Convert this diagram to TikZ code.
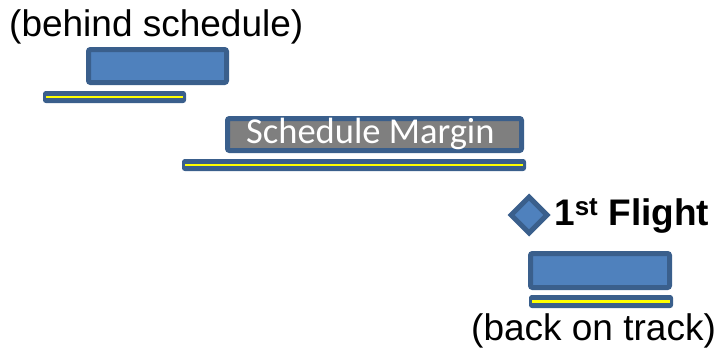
\documentclass[tikz,border=0pt]{standalone}
\usepackage{fontspec}
\setmainfont{Liberation Sans}
\newfontfamily\calib{Carlito}
\usetikzlibrary{shapes.geometric}
\definecolor{fillb}{HTML}{4F81BD}
\definecolor{bdr}{HTML}{3A5F8C}
\definecolor{margin}{HTML}{7F7F7F}
\definecolor{yel}{HTML}{FFFF00}
\begin{document}
\begin{tikzpicture}[x=1pt,y=-1pt,
  task/.style={draw=bdr, fill=fillb, line width=5pt, rounded corners=2pt, inner sep=0pt},
  marginbox/.style={draw=bdr, fill=margin, line width=5pt, rounded corners=2pt, inner sep=0pt},
  barbox/.style={draw=bdr, fill=bdr, line width=2pt, rounded corners=2pt, inner sep=0pt},
  yline/.style={draw=yel, line width=2.2pt},
  lbl/.style={inner sep=0pt, anchor=base west, font=\fontsize{37}{41}\selectfont},
  milestone/.style={diamond, aspect=1, draw=bdr, fill=fillb, line width=5pt, inner sep=0pt, minimum size=38pt}]
\useasboundingbox (0,0) rectangle (717,349);

% behind schedule
\node[lbl] (t1) at (9,36) {(behind schedule)};
\node[task, minimum width=138pt, minimum height=33pt] (b1) at (157.5,66) {};
\node[barbox, minimum width=141pt, minimum height=10pt] (r1) at (114.5,97) {};
\draw[yline] ([xshift=3pt]r1.west) -- ([xshift=-3pt]r1.east);

% schedule margin
\node[marginbox, minimum width=294pt, minimum height=32pt] (b2) at (374.5,134.5) {};
\node[inner sep=0pt, anchor=base west, text=white, font=\calib\fontsize{36.5}{40}\selectfont] (t2) at (246,143) {Schedule Margin};
\node[barbox, minimum width=342pt, minimum height=10pt] (r2) at (354,165) {};
\draw[yline] ([xshift=3pt]r2.west) -- ([xshift=-3pt]r2.east);

% first flight
\node[milestone] (m) at (529,215) {};
\node[lbl, font=\bfseries\fontsize{37}{41}\selectfont] (t3) at (554,225) {1\textsuperscript{st} Flight};

% back on track
\node[task, minimum width=139pt, minimum height=34pt] (b3) at (600,270.5) {};
\node[barbox, minimum width=142pt, minimum height=11pt] (r3) at (601,301.5) {};
\draw[yline] ([xshift=3pt]r3.west) -- ([xshift=-3pt]r3.east);
\node[lbl] (t4) at (471,340) {(back on track)};
\end{tikzpicture}
\end{document}
